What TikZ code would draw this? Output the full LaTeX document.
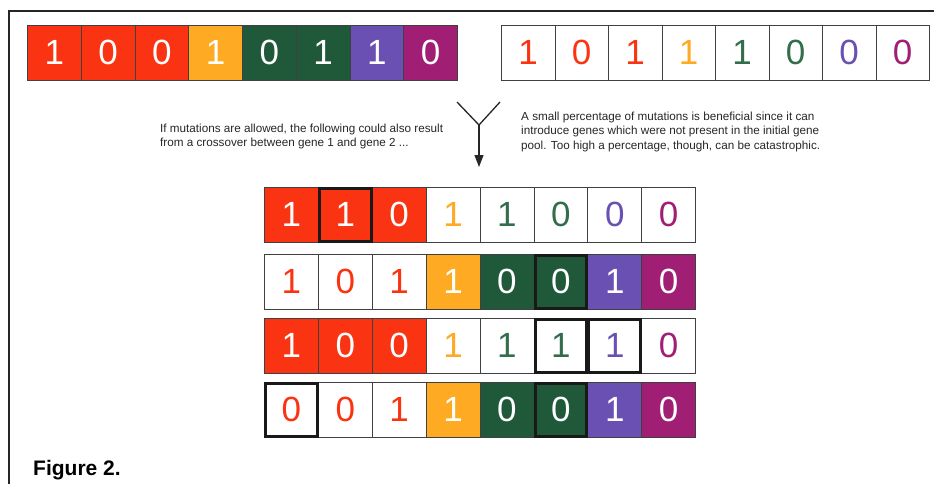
\documentclass[tikz,border=0pt]{standalone}
\usepackage{fontspec}
\setmainfont{Liberation Sans}
\usetikzlibrary{arrows.meta}
\definecolor{cRed}{RGB}{250,52,18}
\definecolor{cOra}{RGB}{255,170,35}
\definecolor{cGre}{RGB}{32,88,58}
\definecolor{cPur}{RGB}{105,80,178}
\definecolor{cMag}{RGB}{160,30,115}
\definecolor{cGreT}{RGB}{50,110,75}
\tikzset{
  cellbox/.style={draw=black!75, line width=0.8pt, minimum width=53.8pt, minimum height=55pt,
    inner sep=0pt, anchor=north west, font=\fontsize{35}{35}\selectfont},
  Rf/.style={fill=cRed,text=white}, Of/.style={fill=cOra,text=white},
  Gf/.style={fill=cGre,text=white}, Pf/.style={fill=cPur,text=white},
  Mf/.style={fill=cMag,text=white},
  Ro/.style={fill=white,text=cRed}, Oo/.style={fill=white,text=cOra},
  Go/.style={fill=white,text=cGreT}, Po/.style={fill=white,text=cPur},
  Mo/.style={fill=white,text=cMag},
  mutline/.style={draw=black!90, line width=3pt},
  frameline/.style={draw=black!85, line width=2pt},
  smalltext/.style={font=\fontsize{11.7}{14.3}\selectfont, align=left, inner sep=0pt, text=black!85},
  arrowline/.style={draw=black!85, line width=1.3pt},
}
\newcommand\chromo[5]{% name, x, y, cell width, list style/digit
  \foreach [count=\k] \s/\d in {#5} {
    \node[cellbox,\s,minimum width=#4pt] (#1-\k) at ({#2+#4*(\k-1)},#3) {\d};
  }
}
\newcommand\mutcell[1]{%
  \draw[mutline] ([shift={(1.5pt,-1.5pt)}]#1.north west) rectangle ([shift={(-1.5pt,1.5pt)}]#1.south east);
}
\begin{document}
\begin{tikzpicture}[x=1pt,y=-1pt]
\useasboundingbox (0,0) rectangle (934,484);
% frame
\coordinate (fa) at (9,484);
\coordinate (fb) at (9,11);
\coordinate (fc) at (934,11);
\draw[frameline] (fa) -- (fb) -- (fc);
% parents
\chromo{ga}{27}{25}{53.75}{Rf/1,Rf/0,Rf/0,Of/1,Gf/0,Gf/1,Pf/1,Mf/0}
\chromo{gb}{501}{25}{53.5}{Ro/1,Ro/0,Ro/1,Oo/1,Go/1,Go/0,Po/0,Mo/0}
% arrow
\coordinate (yl) at (457,102);
\coordinate (yr) at (500,102);
\coordinate (yj) at (479,125);
\coordinate (yt) at (479,167);
\draw[arrowline] (yl) -- (yj) -- (yr);
\draw[arrowline,-{Triangle[length=12pt,width=9pt]}] (yj) -- (yt);
% texts
\node[smalltext,anchor=north west] (tl) at (160,124)
  {If mutations are allowed, the following could also result\\from a crossover between gene 1 and gene 2 ...};
\node[smalltext,anchor=north west] (tr) at (521,112)
  {A small percentage of mutations is beneficial since it can\\introduce genes which were not present in the initial gene\\pool. Too high a percentage, though, can be catastrophic.};
% offspring
\chromo{ra}{264}{187}{53.9}{Rf/1,Rf/1,Rf/0,Oo/1,Go/1,Go/0,Po/0,Mo/0}
\chromo{rb}{264}{254}{53.9}{Ro/1,Ro/0,Ro/1,Of/1,Gf/0,Gf/0,Pf/1,Mf/0}
\chromo{rc}{264}{318}{53.9}{Rf/1,Rf/0,Rf/0,Oo/1,Go/1,Go/1,Po/1,Mo/0}
\chromo{rd}{264}{382}{53.9}{Ro/0,Ro/0,Ro/1,Of/1,Gf/0,Gf/0,Pf/1,Mf/0}
\mutcell{ra-2}
\mutcell{rb-6}
\mutcell{rc-6}
\mutcell{rc-7}
\mutcell{rd-1}
\mutcell{rd-6}
% caption
\node[anchor=west,inner sep=0pt,font=\fontsize{21}{21}\selectfont\bfseries] (cap) at (33,470) {Figure 2.};
\end{tikzpicture}
\end{document}
